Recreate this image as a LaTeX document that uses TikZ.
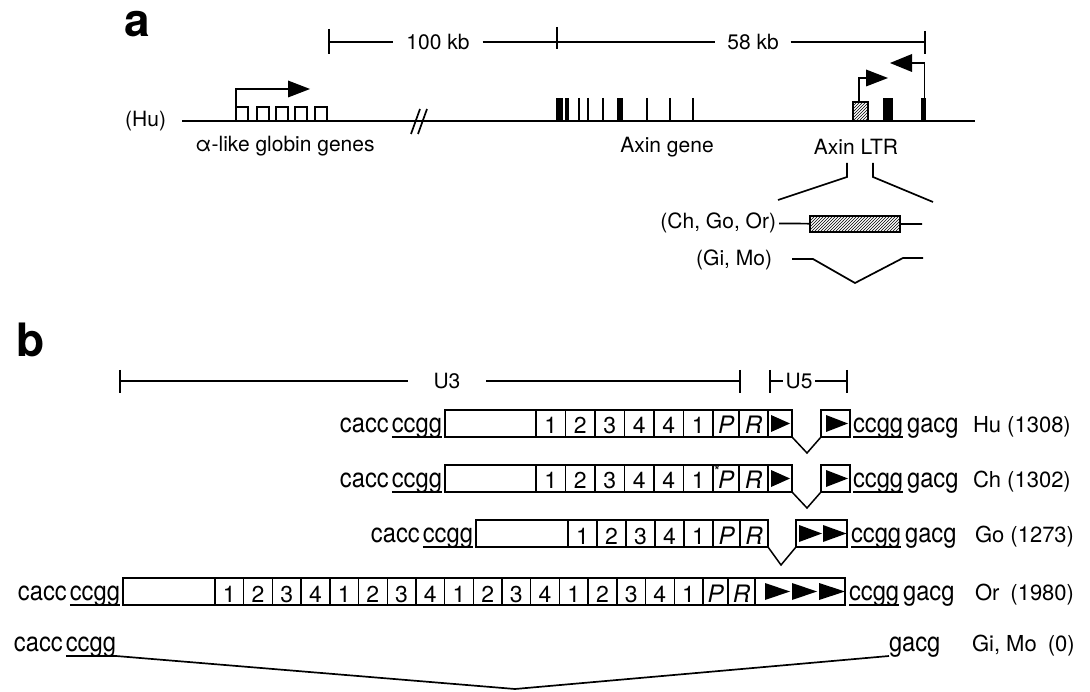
\documentclass[tikz,border=0pt]{standalone}
\usepackage{fontspec}
\setmainfont{TeX Gyre Heros}
\newfontfamily\seqfont[FakeStretch=0.88]{TeX Gyre Heros}
\usetikzlibrary{patterns}
\newcommand\rtri[3]{\fill (#1,{#3-8.5}) -- ({#1+#2},#3) -- (#1,{#3+8.5}) -- cycle;}
\begin{document}
\begin{tikzpicture}[x=1pt,y=-1pt,
  every node/.style={inner sep=0pt, outer sep=0pt},
  ln/.style={line width=1.7pt},
  bar/.style={line width=1.7pt},
  lab/.style={font=\fontsize{21}{24}\selectfont},
  big/.style={font=\fontsize{46}{46}\selectfont\bfseries},
  cellbox/.style={draw, line width=1.4pt, minimum height=27pt, anchor=north west,
    text height=21pt, text depth=0pt, font=\fontsize{23}{23}\selectfont},
  it/.style={font=\fontsize{24}{24}\selectfont\itshape},
  seq/.style={font=\seqfont\fontsize{27}{27}\selectfont, anchor=base west},
  seqr/.style={font=\seqfont\fontsize{27}{27}\selectfont, anchor=base east},
  ul/.style={line width=1.2pt},
  rlab/.style={font=\fontsize{22}{24}\selectfont, anchor=base west}]
\useasboundingbox (0,0) rectangle (1090,692);

% ================= panel a =================
\node[big, anchor=base] (la) at (137,37) {a};
% scale bar
\coordinate (s1) at (329,42); \coordinate (s2) at (557,42); \coordinate (s3) at (925,42);
\node[lab, inner xsep=13pt] (k100) at (438,42) {100 kb};
\node[lab, inner xsep=12pt] (k58) at (753,42) {58 kb};
\draw[ln] (s1) -- (k100) (k100) -- (s2) -- (k58) -- (s3);
\draw[ln] (329,29) -- (329,54) (557,27) -- (557,49) (925,31) -- (925,54);

% main line
\coordinate (m0) at (182,121); \coordinate (m1) at (975,121);
\draw[ln] (m0) -- (m1);
\node[lab, anchor=east] (hu) at (166,121) {(Hu)};
\draw[ln] (411,134) -- (420,109) (418,134) -- (427,109);

% globin genes
\foreach \x in {236,257,276,295,315} \draw[line width=1.4pt] (\x,107) rectangle ++(12,14);
\draw[ln] (236,107) -- (236,89) -- (289,89);
\rtri{288}{22}{89}
\node[lab] (glob) at (285,146) {α-like globin genes};

% Axin gene
\fill (556,98) rectangle (563,121);
\fill (565,98) rectangle (568.5,121);
\foreach \x in {579,588,603,647,670,693} \draw[bar] (\x,98) -- (\x,121);
\fill (617,98) rectangle (623,121);
\node[lab] (axg) at (667,147) {Axin gene};

% Axin LTR
\draw[line width=1.3pt, pattern=north east lines] (853,102) rectangle (868,121);
\draw[ln] (859,102) -- (859,78) -- (867,78);
\rtri{866}{22}{78}
\fill (883,98) rectangle (893,121);
\fill (921,98) rectangle (926,121);
\draw[ln] (924.5,98) -- (924.5,63) -- (911,63);
\fill (912,54) -- (890,63) -- (912,72) -- cycle;
\node[lab] (ltr) at (856,147) {Axin LTR};

% expansion
\draw[ln] (847,163) -- (847,177) -- (778,200);
\draw[ln] (873,163) -- (873,177) -- (933,202);
\node[lab, anchor=east, inner xsep=3pt] (cgo) at (779,223) {(Ch, Go, Or)};
\node[draw, line width=1.3pt, pattern=north east lines, minimum width=90pt, minimum height=16pt] (ins) at (855,224) {};
\coordinate (insR) at (922,224);
\draw[ln] (cgo) -- (ins) (ins) -- (insR);
\node[lab, anchor=east] (gimo) at (772,260) {(Gi, Mo)};
\coordinate (g1) at (792,259); \coordinate (g2) at (813,259); \coordinate (g3) at (855,283);
\coordinate (g4) at (903,258); \coordinate (g5) at (923,258);
\draw[ln] (g1) -- (g2) -- (g3) -- (g4) -- (g5);

% ================= panel b =================
\node[big, anchor=base] (lb) at (31,357) {b};
\coordinate (u3a) at (120,381); \coordinate (u3b) at (740,381);
\node[lab, inner xsep=26pt] (u3) at (447,381) {U3};
\draw[ln] (u3a) -- (u3) -- (u3b);
\draw[ln] (120,370) -- (120,393) (740,370) -- (740,393);
\coordinate (u5a) at (770,381); \coordinate (u5b) at (847,381);
\node[lab, inner xsep=3pt] (u5) at (799,381) {U5};
\draw[ln] (u5a) -- (u5) -- (u5b);
\draw[ln] (770,370) -- (770,393) (847,370) -- (847,393);

% ---- Hu row ----
\node[cellbox, minimum width=91pt] (hu0) at (445,410) {};
\foreach \d [count=\i] in {1,2,3,4,4,1}
  \node[cellbox, minimum width=29.5pt] (hu\i) at ({536+29.5*(\i-1)},410) {\d};
\node[cellbox, it, minimum width=26pt] (huP) at (713,410) {P};
\node[cellbox, it, minimum width=29pt] (huR) at (739,410) {R};
\node[cellbox, minimum width=24pt] (huA) at (768,410) {};
\node[cellbox, minimum width=29pt] (huB) at (821,410) {};
\coordinate (huV) at (807,453);
\draw[line width=1.5pt] (huA.south east) -- (huV) -- (huB.south west);
\rtri{771}{19}{423.5}
\rtri{826}{22}{423.5}
\node[seqr] (huc) at (442,432) {ccgg};
\node[seqr] (hua) at ([xshift=-3pt]huc.base west) {cacc};
\draw[ul] ([yshift=-5pt]huc.base west) -- ([yshift=-5pt]huc.base east);
\node[seq] (huc2) at (853,432) {ccgg};
\draw[ul] ([yshift=-5pt]huc2.base west) -- ([yshift=-5pt]huc2.base east);
\node[seq] (hug) at ([xshift=4pt]huc2.base east) {gacg};
\node[rlab] (hul) at (973,432) {Hu (1308)};

% ---- Ch row ----
\node[cellbox, minimum width=91pt] (ch0) at (445,465) {};
\foreach \d [count=\i] in {1,2,3,4,4,1}
  \node[cellbox, minimum width=29.5pt] (ch\i) at ({536+29.5*(\i-1)},465) {\d};
\node[cellbox, it, minimum width=26pt] (chP) at (713,465) {P};
\node[font=\fontsize{15}{15}\selectfont, anchor=north west] (chs) at (714,466) {*};
\node[cellbox, it, minimum width=29pt] (chR) at (739,465) {R};
\node[cellbox, minimum width=24pt] (chA) at (768,465) {};
\node[cellbox, minimum width=29pt] (chB) at (821,465) {};
\coordinate (chV) at (807,508);
\draw[line width=1.5pt] (chA.south east) -- (chV) -- (chB.south west);
\rtri{771}{19}{478.5}
\rtri{826}{22}{478.5}
\node[seqr] (chc) at (442,487) {ccgg};
\node[seqr] (cha) at ([xshift=-3pt]chc.base west) {cacc};
\draw[ul] ([yshift=-5pt]chc.base west) -- ([yshift=-5pt]chc.base east);
\node[seq] (chc2) at (853,487) {ccgg};
\draw[ul] ([yshift=-5pt]chc2.base west) -- ([yshift=-5pt]chc2.base east);
\node[seq] (chg) at ([xshift=4pt]chc2.base east) {gacg};
\node[rlab] (chl) at (973,487) {Ch (1302)};

% ---- Go row ----
\node[cellbox, minimum width=92pt] (go0) at (476,520) {};
\foreach \d [count=\i] in {1,2,3,4,1}
  \node[cellbox, minimum width=29pt] (go\i) at ({568+29*(\i-1)},520) {\d};
\node[cellbox, it, minimum width=27pt] (goP) at (713,520) {P};
\node[cellbox, it, minimum width=28pt] (goR) at (740,520) {R};
\node[cellbox, minimum width=51pt] (goA) at (796,520) {};
\coordinate (goV) at (781,565);
\draw[line width=1.5pt] (goR.south east) -- (goV) -- (goA.south west);
\rtri{799}{23}{533.5}
\rtri{823}{23.5}{533.5}
\node[seqr] (goc) at (473,542) {ccgg};
\node[seqr] (goa) at ([xshift=-3pt]goc.base west) {cacc};
\draw[ul] ([yshift=-5pt]goc.base west) -- ([yshift=-5pt]goc.base east);
\node[seq] (goc2) at (851,542) {ccgg};
\draw[ul] ([yshift=-5pt]goc2.base west) -- ([yshift=-5pt]goc2.base east);
\node[seq] (gog) at ([xshift=4pt]goc2.base east) {gacg};
\node[rlab] (gol) at (975,542) {Go (1273)};

% ---- Or row ----
\node[cellbox, minimum width=92pt] (or0) at (123,578) {};
\foreach \d [count=\i] in {1,2,3,4,1,2,3,4,1,2,3,4,1,2,3,4,1}
  \node[cellbox, minimum width=28.7pt] (or\i) at ({215+28.7*(\i-1)},578) {\d};
\node[cellbox, it, minimum width=25pt] (orP) at (703,578) {P};
\node[cellbox, it, minimum width=27pt] (orR) at (728,578) {R};
\node[cellbox, minimum width=90pt] (orA) at (755,578) {};
\rtri{765}{25}{591.5}
\rtri{792}{25}{591.5}
\rtri{819}{26}{591.5}
\node[seqr] (orc) at (120,600) {ccgg};
\node[seqr] (ora) at ([xshift=-3pt]orc.base west) {cacc};
\draw[ul] ([yshift=-5pt]orc.base west) -- ([yshift=-5pt]orc.base east);
\node[seq] (orc2) at (849,600) {ccgg};
\draw[ul] ([yshift=-5pt]orc2.base west) -- ([yshift=-5pt]orc2.base east);
\node[seq] (org) at ([xshift=4pt]orc2.base east) {gacg};
\node[rlab] (orl) at (975,600) {Or\hspace{0.5em}(1980)};

% ---- Gi, Mo row ----
\node[seqr] (gic) at (116,651) {ccgg};
\node[seqr] (gia) at ([xshift=-3pt]gic.base west) {cacc};
\coordinate (giU) at ([yshift=-5pt]gic.base west);
\coordinate (giE) at ([yshift=-5pt]gic.base east);
\coordinate (giV) at (515,689);
\node[seq] (gig) at (889,651) {gacg};
\coordinate (giR) at ([yshift=-5pt]gig.base west);
\draw[ul] (giU) -- (giE);
\draw[ln] (giE) -- (giV) -- (giR);
\node[rlab] (gil) at (972,651) {Gi, Mo\hspace{0.5em}(0)};
\end{tikzpicture}
\end{document}
